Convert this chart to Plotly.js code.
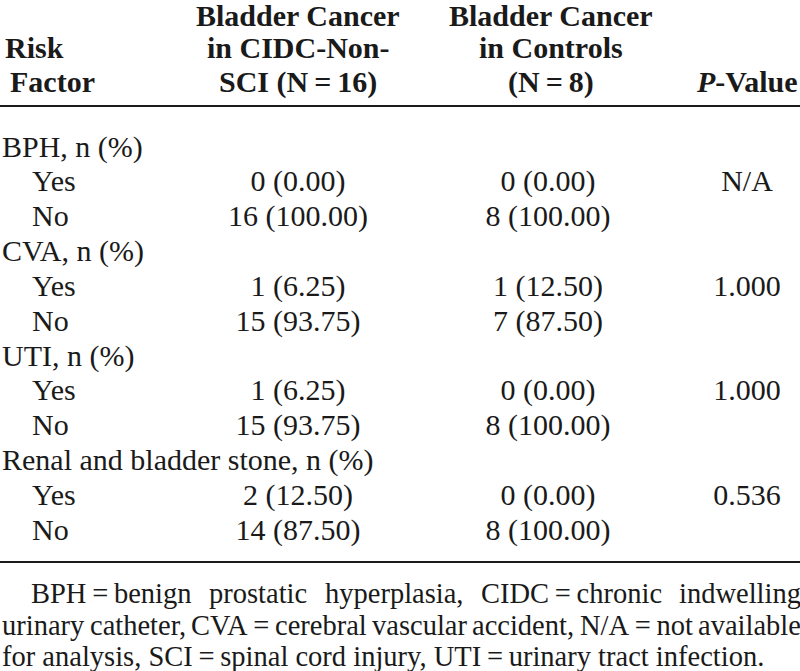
<!DOCTYPE html>
<html>
<head>
<meta charset="utf-8">
<script src="https://cdn.plot.ly/plotly-3.0.1.min.js"></script>
<style>html,body{margin:0;padding:0;background:#fff;}#chart{width:800px;height:671px;}</style>
</head>
<body>
<div id="chart"></div>
<script>
// ---- data ----
var riskFactors = ["BPH", "CVA", "UTI", "Renal and bladder stone"];
var levels = ["Yes", "No"];
var nonSciTotal = 16;
var controlTotal = 8;
var nonSciYes = [0, 1, 1, 2];
var nonSciNo = [16, 15, 15, 14];
var controlYes = [0, 1, 0, 0];
var controlNo = [8, 7, 8, 8];
var pValues = ["N/A", "1.000", "1.000", "0.536"];
var headerCol1 = ["Bladder Cancer", "in CIDC-Non-", "SCI (N\u2009=\u200916)"];
var headerCol2 = ["Bladder Cancer", "in Controls", "(N\u2009=\u20098)"];
var footLine1 = ["BPH\u2009=\u2009benign", "prostatic", "hyperplasia,", "CIDC\u2009=\u2009chronic", "indwelling"];
var footLine2 = ["urinary", "catheter,", "CVA\u2009=\u2009cerebral", "vascular", "accident,", "N/A\u2009=\u2009not", "available"];
var footLine3 = "for analysis, SCI\u2009=\u2009spinal cord injury, UTI\u2009=\u2009urinary tract infection.";

// ---- styles / layout constants ----
var W = 800, H = 671;
var FONT = "Liberation Serif, Times New Roman, serif";
var FS = 30;
var INK = "#1a1a1a";
var rowTop = 149, rowStep = 34.85;
var xGroup = 2, xSub = 32, xCol1 = 298, xCol2 = 548, xCol3 = 747;

function fmt(n, tot) { return n + " (" + (n / tot * 100).toFixed(2) + ")"; }

var labels = [], labelX = [], c1 = [], c2 = [], c3 = [], rows = [];
riskFactors.forEach(function (rf, i) {
  labels.push(rf + ", n (%)"); labelX.push(xGroup);
  c1.push(""); c2.push(""); c3.push("");
  levels.forEach(function (lv, j) {
    labels.push(lv); labelX.push(xSub);
    c1.push(fmt(j === 0 ? nonSciYes[i] : nonSciNo[i], nonSciTotal));
    c2.push(fmt(j === 0 ? controlYes[i] : controlNo[i], controlTotal));
    c3.push(j === 0 ? pValues[i] : "");
  });
});
for (var k = 0; k < labels.length; k++) rows.push(k);

var tf = { family: FONT, size: FS, color: INK };
function col(x, text, pos) {
  return {
    type: "scatter", mode: "text", x: x, y: rows, text: text,
    textposition: pos, textfont: tf, hoverinfo: "skip", showlegend: false, cliponaxis: false
  };
}
var traces = [
  col(labelX, labels, "middle right"),
  col(rows.map(function () { return xCol1; }), c1, "middle center"),
  col(rows.map(function () { return xCol2; }), c2, "middle center"),
  col(rows.map(function () { return xCol3; }), c3, "middle center")
];

function py(p) { return 1 - p / H; }
function px(p) { return p / W; }
var ann = [];
function addText(t, x, y, anchor, bold, size) {
  ann.push({
    text: bold ? "<b>" + t + "</b>" : t, xref: "paper", yref: "paper",
    x: px(x), y: py(y), xanchor: anchor, yanchor: "middle", showarrow: false,
    font: { family: FONT, size: size || FS, color: INK }
  });
}
var hy = [15, 48, 82];
headerCol1.forEach(function (t, i) { addText(t, xCol1, hy[i], "center", true); });
headerCol2.forEach(function (t, i) { addText(t, xCol2 + 3, hy[i], "center", true); });
addText("Risk", 3, hy[1], "left", true);
addText("Factor", 8, hy[2], "left", true);
addText("<i>P</i>-Value", xCol3, hy[2], "center", true);

// justified footnote
var cv = document.createElement("canvas").getContext("2d");
var FFS = 28.5;
cv.font = FFS + "px 'Liberation Serif'";
function justify(words, x0, x1, y) {
  var ws = words.map(function (w) { return cv.measureText(w).width; });
  var sum = ws.reduce(function (a, b) { return a + b; }, 0);
  var gap = (x1 - x0 - sum) / (words.length - 1);
  var x = x0;
  words.forEach(function (w, i) {
    addText(w, x, y, "left", false, FFS);
    x += ws[i] + gap;
  });
}
justify(footLine1, 29, 799, 593);
justify(footLine2, 0, 799, 625);
addText(footLine3, 0, 656, "left", false, FFS);

var shapes = [106, 562].map(function (y) {
  return { type: "line", xref: "paper", yref: "paper", x0: 0, x1: 1, y0: py(y), y1: py(y),
    line: { color: INK, width: 2 } };
});

var yTop = -rowTop / rowStep, yBot = (H - rowTop) / rowStep;
var layout = {
  width: W, height: H, margin: { l: 0, r: 0, t: 0, b: 0 },
  paper_bgcolor: "#fff", plot_bgcolor: "#fff",
  xaxis: { range: [0, W], visible: false, fixedrange: true },
  yaxis: { range: [yBot, yTop], visible: false, fixedrange: true },
  annotations: ann, shapes: shapes, showlegend: false
};
Plotly.newPlot("chart", traces, layout, { staticPlot: true, displayModeBar: false });
</script>
</body>
</html>
